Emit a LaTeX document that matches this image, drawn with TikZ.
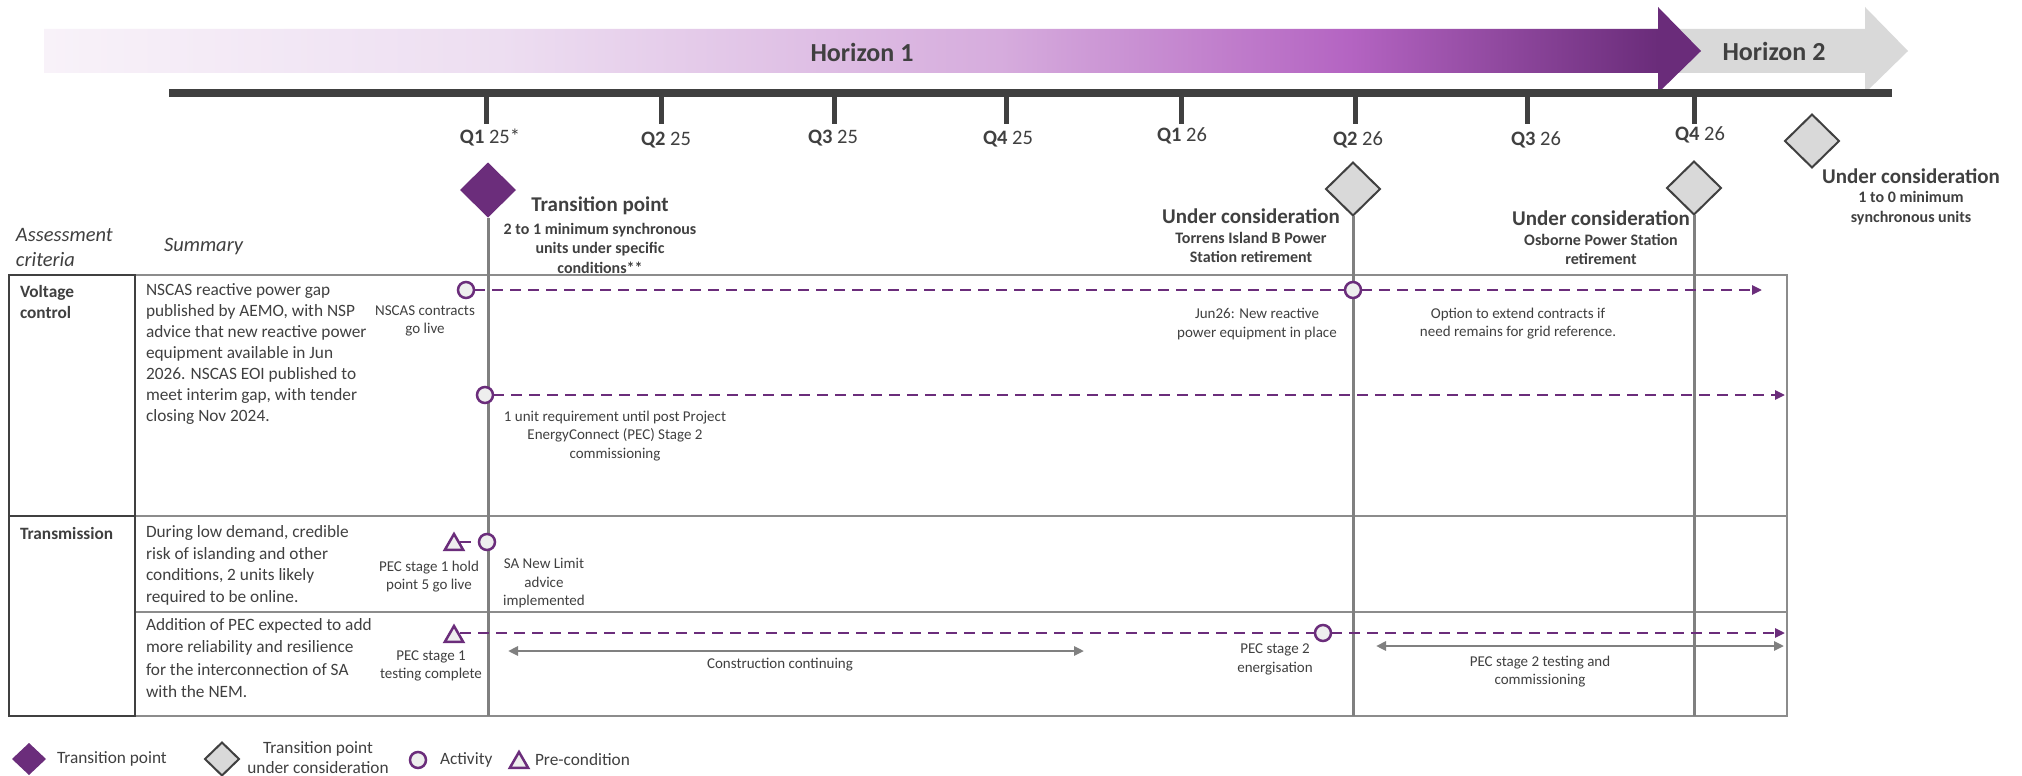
\documentclass[tikz,border=0pt]{standalone}
\usepackage{fontspec}
\setmainfont{Carlito}
\usetikzlibrary{shapes.geometric,arrows.meta}
\definecolor{pur}{RGB}{107,45,123}
\definecolor{txt}{RGB}{64,64,64}
\definecolor{dk}{RGB}{64,64,64}
\definecolor{gridc}{RGB}{140,140,140}
\definecolor{vline}{RGB}{128,128,128}
\definecolor{gfill}{RGB}{217,217,217}
\definecolor{cfill}{RGB}{238,238,238}
\definecolor{hA}{RGB}{248,242,249}
\definecolor{hB}{RGB}{237,222,241}
\definecolor{hC}{RGB}{214,172,221}
\definecolor{hD}{RGB}{180,100,194}
\definecolor{hE}{RGB}{106,44,122}
\pgfdeclarehorizontalshading{horizshade}{100bp}{color(0bp)=(hA); color(25bp)=(hA); color(38.76bp)=(hB); color(53.85bp)=(hC); color(64.4bp)=(hD); color(73.7bp)=(hE); color(75bp)=(hE); color(100bp)=(hE)}
\newcommand\fsum{\fontsize{17.3}{21}\selectfont}
\newcommand\fann{\fontsize{15}{18.5}\selectfont}
\newcommand\ftick{\fontsize{20.5}{24}\selectfont}
\newcommand\fhead{\fontsize{21}{24}\selectfont\bfseries}
\newcommand\fsubb{\fontsize{16}{19.5}\selectfont\bfseries}
\newcommand\fhor{\fontsize{26}{30}\selectfont\bfseries}
\newcommand\fital{\fontsize{20.5}{25}\selectfont\itshape}
\begin{document}
\begin{tikzpicture}[x=1pt,y=-1pt,
  every node/.style={inner sep=0pt, outer sep=0pt, text=txt},
  tpdia/.style={diamond, aspect=1, fill=pur, draw=none, minimum width=56pt, minimum height=55pt},
  ucdia/.style={diamond, aspect=1, fill=gfill, draw=dk, line width=2pt, minimum width=54pt, minimum height=53pt},
  act/.style={circle, draw=pur, fill=cfill, line width=2.5pt, minimum size=16pt},
  pre/.style={regular polygon, regular polygon sides=3, draw=pur, fill=cfill, line width=2.5pt, minimum size=21pt},
  pdash/.style={draw=pur, line width=2.5pt, dash pattern=on 11pt off 7pt},
  ptip/.style={-{Triangle[length=10pt,width=9pt]}},
  garrow/.style={draw=vline, line width=2.5pt, {Triangle[length=10pt,width=9pt]}-{Triangle[length=10pt,width=9pt]}},
  vl/.style={draw=vline, line width=3pt},
  ann/.style={font=\fann, align=center},
  sumtxt/.style={font=\fsum, align=left, anchor=west},
  rowhead/.style={font=\fsum\bfseries, align=left, anchor=west},
  ticklab/.style={font=\ftick},
  legtxt/.style={font=\fsum, anchor=west}
]
\useasboundingbox (0,0) rectangle (2022,776);
\fill[white] (0,0) rectangle (2022,776);

% horizon arrows
\fill[gfill] (1640,29) -- (1865,29) -- (1865,7) -- (1908,51) -- (1865,93) -- (1865,73) -- (1640,73) -- cycle;
\shade[shading=horizshade] (44,29) -- (1658,29) -- (1658,7) -- (1701,51) -- (1658,93) -- (1658,73) -- (44,73) -- cycle;
\node[font=\fhor] (h1) at (862,52) {Horizon 1};
\node[font=\fhor] (h2) at (1774,51) {Horizon 2};

% timeline
\draw[dk, line width=7pt] (169,93) -- (1892,93);
\foreach \x in {486,661,834,1006,1181,1355,1527,1694}
  \draw[dk, line width=5pt] (\x,96) -- (\x,124);
\node[ticklab] (q125) at (490,138) {\textbf{Q1} 25*};
\node[ticklab] (q225) at (666,140) {\textbf{Q2} 25};
\node[ticklab] (q325) at (833,138) {\textbf{Q3} 25};
\node[ticklab] (q425) at (1008,139) {\textbf{Q4} 25};
\node[ticklab] (q126) at (1182,136) {\textbf{Q1} 26};
\node[ticklab] (q226) at (1358,140) {\textbf{Q2} 26};
\node[ticklab] (q326) at (1536,140) {\textbf{Q3} 26};
\node[ticklab] (q426) at (1700,135) {\textbf{Q4} 26};

% table
\draw[gridc, line width=2pt] (135,275) rectangle (1787,716);
\draw[gridc, line width=2pt] (135,516) -- (1787,516);
\draw[gridc, line width=2pt] (135,612) -- (1787,612);
\draw[dk, line width=2pt] (9,275) rectangle (135,716);
\draw[dk, line width=2pt] (9,516) -- (135,516);

% column headings
\node[font=\fital, align=left, anchor=west] (ac) at (16,247.5) {Assessment\\criteria};
\node[font=\fital, anchor=west] (sm) at (164,247) {Summary};

% row headings and summaries
\node[rowhead] (vc) at (20,302) {Voltage\\control};
\node[rowhead] (tr) at (20,533) {Transmission};
\node[sumtxt] (s1) at (146,354.5) {NSCAS reactive power gap\\published by AEMO, with NSP\\advice that new reactive power\\equipment available in Jun\\2026. NSCAS EOI published to\\meet interim gap, with tender\\closing Nov 2024.};
\node[sumtxt, font=\fontsize{17.3}{21.5}\selectfont] (s2) at (146,565.5) {During low demand, credible\\risk of islanding and other\\conditions, 2 units likely\\required to be online.};
\node[sumtxt, font=\fontsize{17.3}{22.5}\selectfont] (s3) at (146,658) {Addition of PEC expected to add\\more reliability and resilience\\for the interconnection of SA\\with the NEM.};

% transition point diamonds
\node[tpdia] (tp1) at (488,190) {};
\node[ucdia] (uc1) at (1353,189) {};
\node[ucdia] (uc2) at (1694,188) {};
\node[ucdia] (uc3) at (1812,141) {};
\coordinate (b1) at (488,716);
\coordinate (b2) at (1353,716);
\coordinate (b3) at (1694,716);
\draw[vl] (tp1.south) -- (b1);
\draw[vl] (uc1.south) -- (b2);
\draw[vl] (uc2.south) -- (b3);

\node[font=\fhead] (tp1t) at (600,206) {Transition point};
\node[font=\fsubb, align=center] (tp1s) at (600,248) {2 to 1 minimum synchronous\\units under specific\\conditions**};
\node[font=\fhead] (uc1t) at (1251,216) {Under consideration};
\node[font=\fsubb, align=center] (uc1s) at (1251,247.5) {Torrens Island B Power\\Station retirement};
\node[font=\fhead] (uc2t) at (1601,218) {Under consideration};
\node[font=\fsubb, align=center] (uc2s) at (1601,249.5) {Osborne Power Station\\retirement};
\node[font=\fhead] (uc3t) at (1911,176) {Under consideration};
\node[font=\fsubb, align=center] (uc3s) at (1911,208) {1 to 0 minimum\\synchronous units};

% activities and preconditions
\node[act] (a1) at (466,290) {};
\node[act] (a2) at (1353,290) {};
\node[act] (a3) at (485,395) {};
\node[act] (a4) at (487,542) {};
\node[act] (a5) at (1323,633) {};
\node[pre] (p1) at (454,544.5) {};
\node[pre] (p2) at (454,636.5) {};
\coordinate (e1) at (1762,290);
\coordinate (e2) at (1785,395);
\coordinate (e4) at (1785,633);
\draw[pdash] (a1) -- (a2);
\draw[pdash, ptip] (a2) -- (e1);
\draw[pdash, ptip] (a3) -- (e2);
\draw[pdash] (p1.east |- a4) -- (a4);
\draw[pdash] (p2.east |- a5) -- (a5);
\draw[pdash, ptip] (a5) -- (e4);

\coordinate (c1l) at (508,651);
\coordinate (c1r) at (1084,651);
\coordinate (c2l) at (1376,646);
\coordinate (c2r) at (1784,646);
\draw[garrow] (c1l) -- (c1r);
\draw[garrow] (c2l) -- (c2r);

% annotations
\node[ann] (n1) at (425,321) {NSCAS contracts\\go live};
\node[ann] (n2) at (1257,324) {Jun26: New reactive\\power equipment in place};
\node[ann] (n3) at (1518,323.5) {Option to extend contracts if\\need remains for grid reference.};
\node[ann] (n4) at (615,436) {1 unit requirement until post Project\\EnergyConnect (PEC) Stage 2\\commissioning};
\node[ann] (n5) at (429,576.5) {PEC stage 1 hold\\point 5 go live};
\node[ann] (n6) at (544,583.5) {SA New Limit\\advice\\implemented};
\node[ann] (n7) at (431,666) {PEC stage 1\\testing complete};
\node[ann] (n8) at (780,665) {Construction continuing};
\node[ann] (n9) at (1275,659.5) {PEC stage 2\\energisation};
\node[ann] (n10) at (1540,671.5) {PEC stage 2 testing and\\commissioning};

% legend
\node[tpdia, minimum width=34pt, minimum height=32pt] (lg1) at (29,759) {};
\node[legtxt] (lg1t) at (57,759) {Transition point};
\node[ucdia, minimum width=34pt, minimum height=33pt] (lg2) at (222,759) {};
\node[font=\fontsize{17.3}{20}\selectfont, align=center] (lg2t) at (318,758) {Transition point\\under consideration};
\node[act] (lg3) at (418,760) {};
\node[legtxt] (lg3t) at (440,760) {Activity};
\node[pre] (lg4) at (519,762.5) {};
\node[legtxt] (lg4t) at (535,760) {Pre-condition};
\end{tikzpicture}
\end{document}
